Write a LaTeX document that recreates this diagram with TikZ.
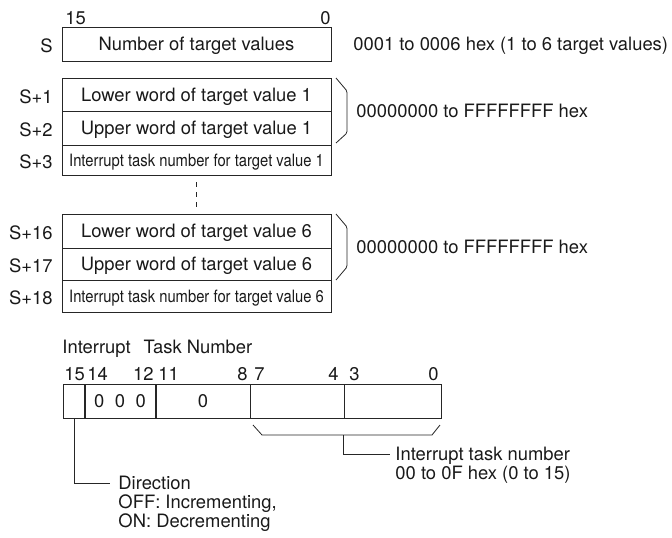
\documentclass[tikz,border=0pt]{standalone}
\usepackage{fontspec}
\setmainfont{TeX Gyre Heros}
\usepackage{graphicx}
\begin{document}
\begin{tikzpicture}[x=1pt,y=-1pt,
  font=\fontsize{18.4}{19}\selectfont,
  every node/.style={text=black!90},
  line width=0.9pt, draw=black!85,
  row/.style={draw=black!85, line width=0.9pt, minimum width=269pt, inner sep=0pt, text height=13.2pt, text depth=0pt},
  bitbox/.style={draw=black!85, line width=0.9pt, minimum height=34pt, inner sep=0pt, text height=13.2pt, text depth=0pt},
  lbl/.style={inner sep=0pt, text height=13.2pt, text depth=0pt},
  bitlbl/.style={inner sep=0pt},
  thinline/.style={line width=0.8pt, draw=black!85},
  cond/.style={row},
]
\useasboundingbox (0,0) rectangle (672,538);
\newcommand{\condtext}[1]{\scalebox{0.87}[1]{\fontsize{17}{19}\selectfont #1}}

% bit numbers on top
\node[bitlbl, anchor=base west] (t15) at (65,24) {15};
\node[bitlbl, anchor=base east] (t0) at (331,24) {0};

% first word
\node[row, minimum height=34pt] (s) at (196.5,44) {Number of target values};
% group 1
\node[row, minimum height=33pt] (s1) at (196.5,94.5) {Lower word of target value 1};
\node[row, minimum height=34pt] (s2) at (196.5,128) {Upper word of target value 1};
\node[row, minimum height=30pt, text height=12.2pt] (s3) at (196.5,160) {\condtext{Interrupt task number for target value 1}};
% group 6
\node[row, minimum height=34pt] (s16) at (196.5,231) {Lower word of target value 6};
\node[row, minimum height=32pt] (s17) at (196.5,264) {Upper word of target value 6};
\node[row, minimum height=32pt, text height=12.2pt] (s18) at (196.5,296) {\condtext{Interrupt task number for target value 6}};

% dashed continuation
\draw[thinline, dash pattern=on 5pt off 5pt] ([yshift=-7pt]s3.south) -- ([yshift=7pt]s16.north);

% address labels
\node[lbl, anchor=east] (ls) at (53,46) {S};
\node[lbl, anchor=east] (ls1) at (53,97) {S+1};
\node[lbl, anchor=east] (ls2) at (53,130) {S+2};
\node[lbl, anchor=east] (ls3) at (53,162) {S+3};
\node[lbl, anchor=east] (ls16) at (53,233) {S+16};
\node[lbl, anchor=east] (ls17) at (53,266) {S+17};
\node[lbl, anchor=east] (ls18) at (53,298) {S+18};

% braces right
\draw[thinline, rounded corners=1.5pt] (336,78) -- (347,91) -- (347,133) -- (336,143);
\draw[thinline, rounded corners=1.5pt] (336,214) -- (347,227) -- (347,267) -- (336,280);

% right-side texts
\node[lbl, anchor=west] (cnt) at (353,44) {0001 to 0006 hex (1 to 6 target values)};
\node[lbl, anchor=west] (rng1) at (356,111) {00000000 to FFFFFFFF hex};
\node[lbl, anchor=west] (rng2) at (356,247) {00000000 to FFFFFFFF hex};

% Interrupt task number word
\node[bitlbl, anchor=base west] (itn) at (62,353) {Interrupt\hspace{8pt} Task Number};

\node[bitlbl, anchor=base west] (n15) at (64,380) {15};
\node[bitlbl, anchor=base west] (n14) at (87,380) {14};
\node[bitlbl, anchor=base east] (n12) at (154,380) {12};
\node[bitlbl, anchor=base west] (n11) at (158,380) {11};
\node[bitlbl, anchor=base east] (n8) at (248,380) {8};
\node[bitlbl, anchor=base west] (n7) at (254,380) {7};
\node[bitlbl, anchor=base east] (n4) at (339,380) {4};
\node[bitlbl, anchor=base west] (n3) at (349,380) {3};
\node[bitlbl, anchor=base east] (n0) at (439,380) {0};

\node[bitbox, minimum width=22pt] (b15) at (74,401) {};
\node[bitbox, minimum width=71pt] (b14) at (120,401) {0\hspace{10.5pt}0\hspace{10.5pt}0};
\node[bitbox, minimum width=94pt] (b11) at (203,401) {0};
\node[bitbox, minimum width=94pt] (b7) at (297,401) {};
\node[bitbox, minimum width=97pt] (b3) at (392.5,401) {};

% brace under bits 7-0
\draw[thinline] (253,425) -- (262,435) -- (432,435) -- (440,425);
\coordinate (bm) at (b3.south west |- 0,435);

\node[lbl, anchor=west] (itd1) at (395,454) {Interrupt task number};
\node[lbl, anchor=west] (itd2) at (395,473) {00 to 0F hex (0 to 15)};
\draw[thinline] (bm) |- ([xshift=-5pt]itd1.west);

% direction
\node[lbl, anchor=west] (dir1) at (118,483) {Direction};
\node[lbl, anchor=west] (dir2) at (118,502) {OFF: Incrementing,};
\node[lbl, anchor=west] (dir3) at (118,521) {ON: Decrementing};
\draw[thinline] (b15.south) |- ([xshift=-8pt]dir1.west);
\end{tikzpicture}
\end{document}
